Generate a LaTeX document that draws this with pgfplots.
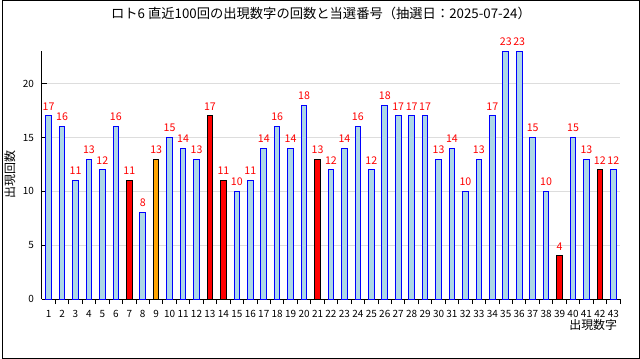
\documentclass[border=0pt]{standalone}
\usepackage{pgfplots}
\pgfplotsset{compat=1.18}
\usepackage{fontspec}
\setmainfont{Noto Sans CJK JP}
\definecolor{barblue}{HTML}{ADD8E6}
\definecolor{edgeblue}{HTML}{0000FF}
\definecolor{gridgray}{HTML}{DDDDDD}
\definecolor{hitorange}{HTML}{FFA500}
\begin{document}
\begin{tikzpicture}
\draw[line width=0.75pt] (0.375pt,0.375pt) rectangle (479.625pt,269.625pt);
\node[font=\fontsize{10}{12}\selectfont] at (240pt,260pt) {ロト6 直近100回の出現数字の回数と当選番号（抽選日：2025-07-24）};
\begin{axis}[
  at={(30pt,45pt)}, anchor=south west,
  scale only axis, width=435pt, height=186.75pt,
  xmin=0.5, xmax=43.5, ymin=0, ymax=23.05,
  axis x line=bottom, axis y line=left,
  axis line style={-, line width=0.75pt},
  tick align=inside,
  xtick={1,...,43},
  minor xtick={1.5,2.5,...,43.5},
  every major x tick/.append style={draw=none},
  minor tick length=3.75pt, major tick length=3.75pt,
  tick style={black, line width=0.75pt},
  ytick={0,5,10,15,20},
  ymajorgrids, grid style={gridgray, line width=0.75pt},
  /pgf/number format/assume math mode=true,
  xticklabel style={font=\fontsize{7.5}{9}\selectfont, yshift=-3.5pt, inner sep=1pt},
  yticklabel style={font=\fontsize{7.5}{9}\selectfont, xshift=-2.5pt},
  xlabel={出現数字},
  xlabel style={at={(rel axis cs:1,0)}, anchor=north east, inner sep=0pt, yshift=-15pt, xshift=-2pt, font=\fontsize{9}{10}\selectfont},
  ylabel={出現回数},
  ylabel style={at={(rel axis cs:-0.0552,0.5)}, anchor=center, font=\fontsize{9}{10}\selectfont},
  clip=false,
  ybar, bar width=4.2pt,
  nodes near coords,
  every node near coord/.append style={font=\fontsize{8}{9}\selectfont, text=red, inner sep=0pt, yshift=4pt},
]
\addplot[bar shift=0pt, fill=barblue, draw=edgeblue, line width=0.75pt] coordinates {
(1,17) (2,16) (3,11) (4,13) (5,12) (6,16) (8,8) (10,15) (11,14) (12,13)
(15,10) (16,11) (17,14) (18,16) (19,14) (20,18) (22,12) (23,14) (24,16) (25,12)
(26,18) (27,17) (28,17) (29,17) (30,13) (31,14) (32,10) (33,13) (34,17) (35,23)
(36,23) (37,15) (38,10) (40,15) (41,13) (43,12)
};
\addplot[bar shift=0pt, fill=red, draw=black, line width=0.75pt] coordinates {
(7,11) (13,17) (14,11) (21,13) (39,4) (42,12)
};
\addplot[bar shift=0pt, fill=hitorange, draw=black, line width=0.75pt] coordinates {
(9,13)
};
\end{axis}
\end{tikzpicture}
\end{document}
